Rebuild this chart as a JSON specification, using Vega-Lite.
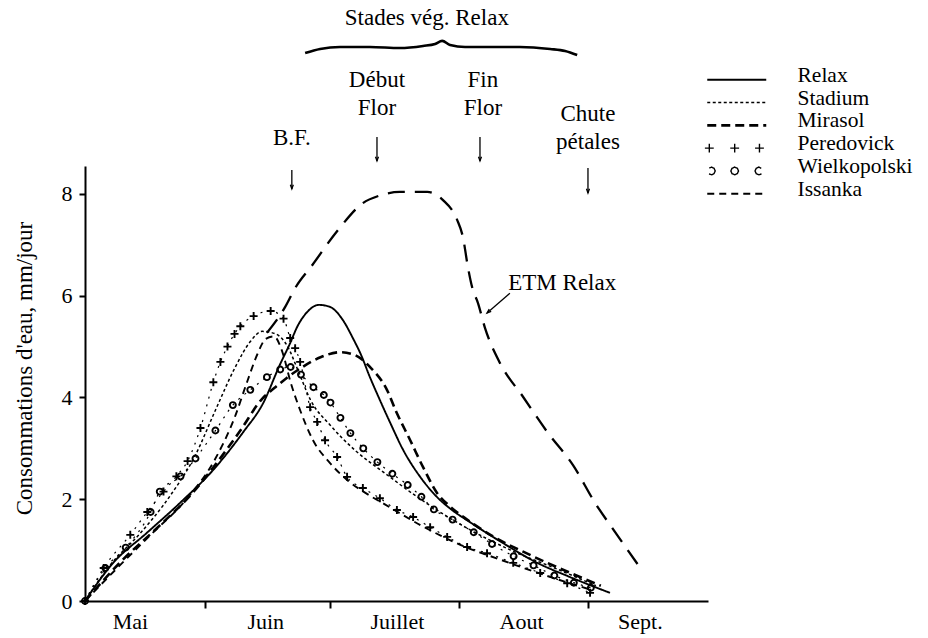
{
  "$schema": "https://vega.github.io/schema/vega-lite/v6.json",
  "width": 623,
  "height": 435,
  "autosize": {"type": "none"},
  "padding": {"left": 85, "top": 166, "right": 220, "bottom": 37},
  "background": "white",
  "config": {"view": {"stroke": null}, "font": "Liberation Serif"},
  "datasets": {
    "curves": [
      {"series":"Relax","d":2,"v":0},{"series":"Relax","d":8.8,"v":0.75},{"series":"Relax","d":16.9,"v":1.34},{"series":"Relax","d":24.9,"v":1.93},{"series":"Relax","d":32.8,"v":2.57},{"series":"Relax","d":40.1,"v":3.32},{"series":"Relax","d":44.9,"v":3.89},{"series":"Relax","d":48.9,"v":4.64},{"series":"Relax","d":51.4,"v":5.07},{"series":"Relax","d":53.1,"v":5.39},{"series":"Relax","d":55.5,"v":5.68},{"series":"Relax","d":58.3,"v":5.82},{"series":"Relax","d":61,"v":5.78},{"series":"Relax","d":64.1,"v":5.52},{"series":"Relax","d":66.6,"v":5.15},{"series":"Relax","d":68.4,"v":4.85},{"series":"Relax","d":70.6,"v":4.4},{"series":"Relax","d":73,"v":3.95},{"series":"Relax","d":75.5,"v":3.5},{"series":"Relax","d":78.6,"v":2.97},{"series":"Relax","d":82.7,"v":2.44},{"series":"Relax","d":86.8,"v":2.04},{"series":"Relax","d":90.5,"v":1.78},{"series":"Relax","d":94.5,"v":1.56},{"series":"Relax","d":102.6,"v":1.14},{"series":"Relax","d":110.9,"v":0.75},{"series":"Relax","d":118.8,"v":0.47},{"series":"Relax","d":128.4,"v":0.16},
      {"series":"Stadium","d":2,"v":0},{"series":"Stadium","d":8,"v":0.7},{"series":"Stadium","d":15.4,"v":1.34},{"series":"Stadium","d":22.6,"v":2.08},{"series":"Stadium","d":28.6,"v":2.87},{"series":"Stadium","d":33.4,"v":3.75},{"series":"Stadium","d":38.2,"v":4.6},{"series":"Stadium","d":41.8,"v":5.1},{"series":"Stadium","d":44.7,"v":5.3},{"series":"Stadium","d":47.9,"v":5.25},{"series":"Stadium","d":50.8,"v":5.0},{"series":"Stadium","d":53.2,"v":4.55},{"series":"Stadium","d":56.3,"v":3.95},{"series":"Stadium","d":61.1,"v":3.45},{"series":"Stadium","d":67.2,"v":2.95},{"series":"Stadium","d":74.4,"v":2.5},{"series":"Stadium","d":82.8,"v":2.0},{"series":"Stadium","d":92.5,"v":1.5},{"series":"Stadium","d":104.5,"v":1.0},{"series":"Stadium","d":116.5,"v":0.6},{"series":"Stadium","d":125,"v":0.3},
      {"series":"Mirasol","d":2,"v":0},{"series":"Mirasol","d":10.6,"v":0.77},{"series":"Mirasol","d":20.2,"v":1.5},{"series":"Mirasol","d":27.4,"v":2.08},{"series":"Mirasol","d":33.4,"v":2.68},{"series":"Mirasol","d":39.4,"v":3.35},{"series":"Mirasol","d":44.7,"v":3.98},{"series":"Mirasol","d":47.8,"v":4.2},{"series":"Mirasol","d":50.5,"v":4.38},{"series":"Mirasol","d":54,"v":4.58},{"series":"Mirasol","d":58.7,"v":4.79},{"series":"Mirasol","d":63.5,"v":4.89},{"series":"Mirasol","d":67.1,"v":4.83},{"series":"Mirasol","d":70.6,"v":4.6},{"series":"Mirasol","d":74.7,"v":4.15},{"series":"Mirasol","d":77.1,"v":3.69},{"series":"Mirasol","d":80.3,"v":3.16},{"series":"Mirasol","d":83.4,"v":2.63},{"series":"Mirasol","d":86.8,"v":2.12},{"series":"Mirasol","d":90,"v":1.85},{"series":"Mirasol","d":94,"v":1.6},{"series":"Mirasol","d":99.6,"v":1.3},{"series":"Mirasol","d":109.3,"v":0.9},{"series":"Mirasol","d":118.9,"v":0.55},{"series":"Mirasol","d":126.2,"v":0.3},
      {"series":"Peredovick","d":2,"v":0},{"series":"Peredovick","d":6.5,"v":0.65},{"series":"Peredovick","d":12.9,"v":1.3},{"series":"Peredovick","d":17,"v":1.75},{"series":"Peredovick","d":20.9,"v":2.15},{"series":"Peredovick","d":24,"v":2.45},{"series":"Peredovick","d":26.7,"v":2.75},{"series":"Peredovick","d":29.8,"v":3.4},{"series":"Peredovick","d":32.9,"v":4.3},{"series":"Peredovick","d":34.6,"v":4.7},{"series":"Peredovick","d":36.3,"v":5.0},{"series":"Peredovick","d":38,"v":5.25},{"series":"Peredovick","d":39.4,"v":5.4},{"series":"Peredovick","d":42.6,"v":5.6},{"series":"Peredovick","d":46.7,"v":5.7},{"series":"Peredovick","d":49.8,"v":5.55},{"series":"Peredovick","d":51.4,"v":5.17},{"series":"Peredovick","d":52.6,"v":4.97},{"series":"Peredovick","d":53.8,"v":4.7},{"series":"Peredovick","d":56.2,"v":3.81},{"series":"Peredovick","d":57.9,"v":3.52},{"series":"Peredovick","d":59.8,"v":3.16},{"series":"Peredovick","d":62.7,"v":2.83},{"series":"Peredovick","d":65.1,"v":2.44},{"series":"Peredovick","d":68.9,"v":2.22},{"series":"Peredovick","d":73,"v":2.02},{"series":"Peredovick","d":77.1,"v":1.79},{"series":"Peredovick","d":81,"v":1.65},{"series":"Peredovick","d":85.1,"v":1.45},{"series":"Peredovick","d":89.2,"v":1.26},{"series":"Peredovick","d":94,"v":1.06},{"series":"Peredovick","d":98.8,"v":0.94},{"series":"Peredovick","d":105.1,"v":0.75},{"series":"Peredovick","d":111.6,"v":0.55},{"series":"Peredovick","d":118.1,"v":0.35},{"series":"Peredovick","d":123.6,"v":0.16},
      {"series":"Wielkopolski","d":2,"v":0},{"series":"Wielkopolski","d":6.9,"v":0.65},{"series":"Wielkopolski","d":11.8,"v":1.05},{"series":"Wielkopolski","d":17.8,"v":1.75},{"series":"Wielkopolski","d":20,"v":2.15},{"series":"Wielkopolski","d":25,"v":2.45},{"series":"Wielkopolski","d":28.6,"v":2.8},{"series":"Wielkopolski","d":33.4,"v":3.35},{"series":"Wielkopolski","d":37.6,"v":3.85},{"series":"Wielkopolski","d":41.8,"v":4.15},{"series":"Wielkopolski","d":45.8,"v":4.4},{"series":"Wielkopolski","d":49,"v":4.55},{"series":"Wielkopolski","d":51.5,"v":4.6},{"series":"Wielkopolski","d":54,"v":4.45},{"series":"Wielkopolski","d":57,"v":4.2},{"series":"Wielkopolski","d":59.5,"v":4.05},{"series":"Wielkopolski","d":61.1,"v":3.9},{"series":"Wielkopolski","d":63.5,"v":3.6},{"series":"Wielkopolski","d":65.9,"v":3.3},{"series":"Wielkopolski","d":69,"v":3.0},{"series":"Wielkopolski","d":72.4,"v":2.73},{"series":"Wielkopolski","d":76,"v":2.5},{"series":"Wielkopolski","d":79.7,"v":2.28},{"series":"Wielkopolski","d":83,"v":2.05},{"series":"Wielkopolski","d":86,"v":1.8},{"series":"Wielkopolski","d":90.5,"v":1.6},{"series":"Wielkopolski","d":95.6,"v":1.35},{"series":"Wielkopolski","d":100,"v":1.12},{"series":"Wielkopolski","d":105.2,"v":0.88},{"series":"Wielkopolski","d":110,"v":0.7},{"series":"Wielkopolski","d":115,"v":0.5},{"series":"Wielkopolski","d":119.7,"v":0.36},{"series":"Wielkopolski","d":123.8,"v":0.26},
      {"series":"Issanka","d":2,"v":0},{"series":"Issanka","d":9.3,"v":0.61},{"series":"Issanka","d":17.8,"v":1.3},{"series":"Issanka","d":26.2,"v":1.98},{"series":"Issanka","d":33.4,"v":2.8},{"series":"Issanka","d":38,"v":3.6},{"series":"Issanka","d":41,"v":4.3},{"series":"Issanka","d":43.5,"v":4.85},{"series":"Issanka","d":45.5,"v":5.15},{"series":"Issanka","d":47.5,"v":5.2},{"series":"Issanka","d":49.5,"v":4.9},{"series":"Issanka","d":51.5,"v":4.3},{"series":"Issanka","d":53.8,"v":3.75},{"series":"Issanka","d":56.9,"v":3.16},{"series":"Issanka","d":61,"v":2.71},{"series":"Issanka","d":65.1,"v":2.38},{"series":"Issanka","d":70,"v":2.1},{"series":"Issanka","d":74.4,"v":1.89},{"series":"Issanka","d":82.8,"v":1.49},{"series":"Issanka","d":92.5,"v":1.1},{"series":"Issanka","d":102.1,"v":0.81},{"series":"Issanka","d":114.1,"v":0.47},{"series":"Issanka","d":123.8,"v":0.22}
    ],
    "etm": [
      {"d":45.8,"v":5.27},{"d":50.2,"v":5.78},{"d":52.6,"v":6.15},{"d":56.7,"v":6.6},{"d":62.9,"v":7.29},{"d":68.9,"v":7.82},{"d":73,"v":7.97},{"d":77.8,"v":8.04},{"d":84.4,"v":8.04},{"d":88.2,"v":7.88},{"d":91.6,"v":7.49},{"d":93,"v":7.15},{"d":94.2,"v":6.56},{"d":95.2,"v":6.17},{"d":96.6,"v":5.86},{"d":98.3,"v":5.37},{"d":101.9,"v":4.68},{"d":107.5,"v":4.01},{"d":113.5,"v":3.3},{"d":119.5,"v":2.67},{"d":124.8,"v":1.93},{"d":130.1,"v":1.3},{"d":136.4,"v":0.57}
    ],
    "notes": [
      {"label":"Stades vég. Relax","d":84.3,"v":11.46},
      {"label":"Début","d":72.3,"v":10.24},{"label":"Flor","d":72.3,"v":9.69},
      {"label":"Fin","d":97.8,"v":10.24},{"label":"Flor","d":97.8,"v":9.69},
      {"label":"B.F.","d":51.8,"v":9.1},
      {"label":"Chute","d":123.1,"v":9.57},{"label":"pétales","d":123.1,"v":9.02},
      {"label":"ETM Relax","d":116.9,"v":6.25}
    ],
    "arrows": [
      {"d":51.8,"v":8.47,"d2":51.8,"v2":8.1},
      {"d":72.3,"v":9.12,"d2":72.3,"v2":8.65},
      {"d":97.1,"v":9.12,"d2":97.1,"v2":8.65},
      {"d":123.1,"v":8.51,"d2":123.1,"v2":8.02},
      {"d":104.3,"v":6.05,"d2":98.8,"v2":5.66}
    ],
    "brace": [
      {"d":55,"v":10.77},{"d":58.6,"v":10.85},{"d":63.4,"v":10.89},{"d":70.6,"v":10.89},{"d":77.8,"v":10.87},{"d":83.4,"v":10.91},{"d":86.3,"v":10.95},{"d":88,"v":11.01},{"d":89.9,"v":10.93},{"d":93.5,"v":10.89},{"d":99.5,"v":10.89},{"d":106.7,"v":10.89},{"d":114,"v":10.85},{"d":117.6,"v":10.81},{"d":120.5,"v":10.73}
    ]
  },
  "encoding": {
    "x": {
      "field": "d", "type": "quantitative",
      "scale": {"domain": [2, 152], "nice": false, "zero": false},
      "axis": {
        "title": null, "grid": false,
        "values": [12.8, 31, 45.4, 61, 77.1, 92, 107, 123, 135.6],
        "labelExpr": "datum.value == 12.8 ? 'Mai' : datum.value == 45.4 ? 'Juin' : datum.value == 77.1 ? 'Juillet' : datum.value == 107 ? 'Aout' : datum.value == 135.6 ? 'Sept.' : ''",
        "tickOpacity": {"condition": {"test": "datum.value == 31 || datum.value == 61 || datum.value == 92 || datum.value == 123", "value": 1}, "value": 0},
        "domainColor": "black", "domainWidth": 2,
        "tickColor": "black", "tickWidth": 2, "tickSize": 7,
        "labelFont": "Liberation Serif", "labelFontSize": 22, "labelColor": "black",
        "labelPadding": 3, "labelFlush": false, "labelOverlap": false
      }
    },
    "y": {
      "field": "v", "type": "quantitative",
      "scale": {"domain": [0, 8.55], "nice": false, "zero": false},
      "axis": {
        "title": "Consommations d'eau, mm/jour",
        "titleFont": "Liberation Serif", "titleFontSize": 23, "titleFontWeight": "normal", "titleColor": "black",
        "titlePadding": 25, "titleY": 202,
        "grid": false, "values": [0, 2, 4, 6, 8],
        "domainColor": "black", "domainWidth": 2,
        "tickColor": "black", "tickWidth": 2, "tickSize": 6,
        "labelFont": "Liberation Serif", "labelFontSize": 22, "labelColor": "black", "labelPadding": 7
      }
    }
  },
  "layer": [
    {
      "data": {"name": "etm"},
      "mark": {"type": "line", "interpolate": "monotone", "stroke": "black", "strokeWidth": 2.3, "strokeDash": [17, 10]}
    },
    {
      "data": {"name": "curves"},
      "transform": [{"filter": "datum.series === 'Peredovick' || datum.series === 'Wielkopolski'"}],
      "mark": {"type": "line", "interpolate": "monotone", "stroke": "black", "strokeWidth": 1.2, "strokeDash": [2, 6]},
      "encoding": {"detail": {"field": "series"}}
    },
    {
      "data": {"name": "curves"},
      "transform": [{"filter": "datum.series !== 'Peredovick' && datum.series !== 'Wielkopolski'"}],
      "mark": {"type": "line", "interpolate": "monotone", "stroke": "black", "color": "black"},
      "encoding": {
        "strokeDash": {
          "field": "series", "type": "nominal",
          "scale": {
            "domain": ["Relax", "Stadium", "Mirasol", "Peredovick", "Wielkopolski", "Issanka"],
            "range": [[1, 0], [3, 2.5], [9, 5], [1, 0], [1, 0], [7, 5]]
          },
          "legend": {
            "title": null, "orient": "none", "legendX": 641, "legendY": -97,
            "symbolType": "stroke", "symbolSize": 3481, "symbolStrokeWidth": 1.8,
            "symbolStrokeColor": "black",
            "labelFont": "Liberation Serif", "labelFontSize": 21.5, "labelColor": "black",
            "labelOffset": 50, "labelLimit": 300, "rowPadding": -0.2, "padding": 0,
            "encode": {
              "symbols": {
                "update": {
                  "shape": {"signal": "datum.value === 'Peredovick' ? 'M-1.08,0H-0.78M-0.93,-0.15V0.15M-0.22,0H0.08M-0.07,-0.15V0.15M0.62,0H0.92M0.77,-0.15V0.15' : datum.value === 'Wielkopolski' ? 'M-0.93,-0.1L-0.85,-0.13L-0.77,-0.09L-0.73,0L-0.77,0.09L-0.85,0.13L-0.94,0.1M-0.07,-0.13L0.02,-0.09L0.06,0L0.02,0.09L-0.07,0.13L-0.16,0.09L-0.2,0L-0.16,-0.09ZM0.83,-0.09L0.75,-0.13L0.66,-0.09L0.62,0L0.66,0.09L0.75,0.13L0.84,0.1' : 'stroke'"},
                  "strokeWidth": {"signal": "datum.value === 'Mirasol' ? 2.6 : datum.value === 'Stadium' ? 1.4 : datum.value === 'Peredovick' || datum.value === 'Wielkopolski' ? 1.4 : 1.8"},
                  "stroke": {"value": "black"},
                  "fill": {"value": "transparent"}
                }
              },
              "labels": {"update": {"dy": {"value": -4}}}
            }
          }
        },
        "strokeWidth": {
          "condition": [
            {"test": "datum.series === 'Mirasol'", "value": 2.6},
            {"test": "datum.series === 'Stadium'", "value": 1.5}
          ],
          "value": 1.9
        }
      }
    },
    {
      "data": {"name": "curves"},
      "transform": [{"filter": "datum.series === 'Peredovick'"}],
      "mark": {"type": "point", "shape": "M-1,0H1M0,-1V1", "size": 64, "filled": false, "stroke": "black", "strokeWidth": 1.9, "opacity": 1}
    },
    {
      "data": {"name": "curves"},
      "transform": [{"filter": "datum.series === 'Wielkopolski'"}],
      "mark": {"type": "point", "shape": "circle", "size": 36, "filled": false, "stroke": "black", "strokeWidth": 1.9, "opacity": 1}
    },
    {
      "data": {"name": "brace"},
      "mark": {"type": "line", "interpolate": "monotone", "stroke": "black", "strokeWidth": 2.6}
    },
    {
      "data": {"name": "arrows"},
      "mark": {"type": "rule", "stroke": "black", "strokeWidth": 1.3},
      "encoding": {"x2": {"field": "d2"}, "y2": {"field": "v2"}}
    },
    {
      "data": {"name": "arrows"},
      "mark": {"type": "point", "shape": "M-0.5,-1.4L0,0L0.5,-1.4", "size": 36, "filled": false, "stroke": "black", "strokeWidth": 1.3, "opacity": 1},
      "encoding": {
        "x": {"field": "d2", "type": "quantitative"},
        "y": {"field": "v2", "type": "quantitative"},
        "angle": {"condition": {"test": "datum.d != datum.d2", "value": 49}, "value": 0}
      }
    },
    {
      "data": {"name": "notes"},
      "mark": {"type": "text", "font": "Liberation Serif", "fontSize": 23, "color": "black", "align": "center", "baseline": "middle"},
      "encoding": {"text": {"field": "label"}}
    }
  ]
}
